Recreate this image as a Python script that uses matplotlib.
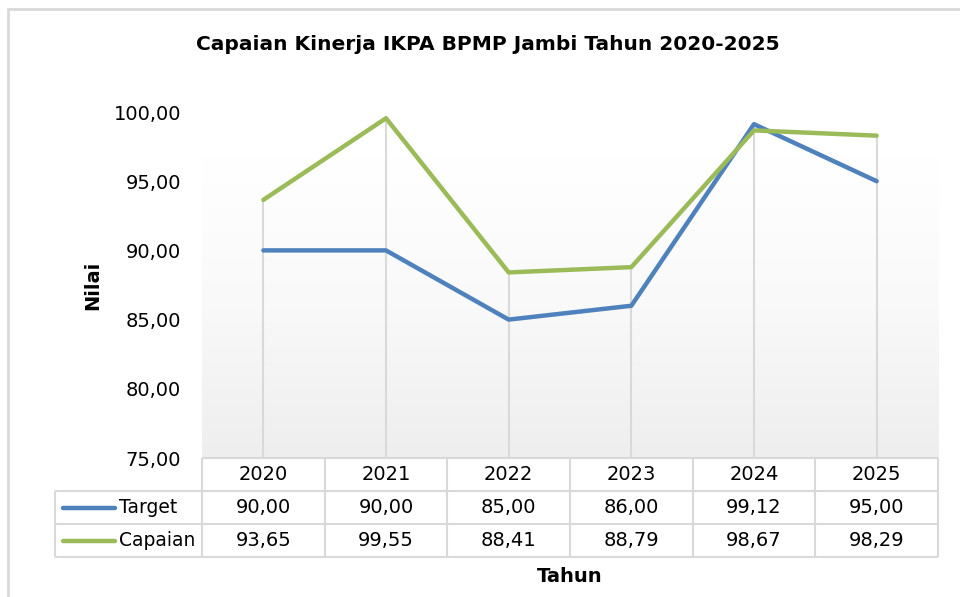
import numpy as np
import matplotlib.pyplot as plt
from matplotlib.patches import Rectangle
from matplotlib.colors import LinearSegmentedColormap

# data
tahun = ['2020', '2021', '2022', '2023', '2024', '2025']
target = [90.00, 90.00, 85.00, 86.00, 99.12, 95.00]
capaian = [93.65, 99.55, 88.41, 88.79, 98.67, 98.29]
y_ticks = [75, 80, 85, 90, 95, 100]

blue = '#4f81bd'
green = '#9bbb59'
grid_c = '#d9d9d9'
fs = 14

plt.rcParams['font.family'] = ['DejaVu Sans']

W, H = 960, 597
fig = plt.figure(figsize=(W / 100, H / 100), dpi=100)

def fx(px):
    return px / W

def fy(py):
    return 1 - py / H

def koma(v):
    return f'{v:.2f}'.replace('.', ',')

# outer chart border
fig.patches.append(Rectangle((fx(8), -0.1), 1.2, fy(9) + 0.1, transform=fig.transFigure,
                             fill=False, edgecolor='#d9d9d9', linewidth=2))

# main axes: x 202..938 px, y bottom 458 px (=75), 100 at 112 px
ppu = (458 - 112) / 25.0
ytop = 75 + (458 - 60) / ppu
ax = fig.add_axes([fx(202), fy(458), fx(938 - 202), (458 - 60) / H])
n = len(tahun)
x = np.arange(n)
ax.set_xlim(-0.5, n - 0.5)
ax.set_ylim(75, ytop)

# gradient plot area (starts at ~158 px)
gtop = 75 + (458 - 158) / ppu
grad = np.linspace(0, 1, 256).reshape(-1, 1)
cm = LinearSegmentedColormap.from_list('g', ['#ffffff', '#f9f9f9', '#eeeeee'])
ax.imshow(grad, extent=(-0.5, n - 0.5, 75, gtop), aspect='auto', origin='upper',
          cmap=cm, zorder=0)

# drop lines
ax.vlines(x, 75, capaian, colors=grid_c, linewidth=1.5, zorder=1)

ax.plot(x, target, color=blue, linewidth=3.2, solid_capstyle='round', zorder=3)
ax.plot(x, capaian, color=green, linewidth=3.2, solid_capstyle='round', zorder=4)

for s in ax.spines.values():
    s.set_visible(False)
ax.set_xticks([])
ax.set_yticks(y_ticks)
ax.set_yticklabels([koma(v) for v in y_ticks], fontsize=fs)
ax.tick_params(axis='y', length=0, pad=15)

fig.text(fx(93), fy(285), 'Nilai', rotation=90, ha='center', va='center',
         fontsize=fs, fontweight='bold')

# data table below
ppx = 736 / n
x0 = -0.5 - (202 - 55) / ppx
tb = fig.add_axes([fx(55), fy(557), fx(938 - 55), (557 - 458) / H])
tb.set_xlim(x0, n - 0.5)
tb.set_ylim(0, 3)
tb.axis('off')
lw = 1.5
tb.hlines(3, -0.5, n - 0.5, colors=grid_c, linewidth=lw, clip_on=False)
for yy in [0, 1, 2]:
    tb.hlines(yy, x0, n - 0.5, colors=grid_c, linewidth=lw, clip_on=False)
for xx in np.arange(-0.5, n, 1.0):
    tb.vlines(xx, 0, 3, colors=grid_c, linewidth=lw, clip_on=False)
tb.vlines(x0, 0, 2, colors=grid_c, linewidth=lw, clip_on=False)

for i, t in enumerate(tahun):
    tb.text(i, 2.5, t, ha='center', va='center', fontsize=fs)
    tb.text(i, 1.5, koma(target[i]), ha='center', va='center', fontsize=fs)
    tb.text(i, 0.5, koma(capaian[i]), ha='center', va='center', fontsize=fs)

def tx(px):
    return x0 + (px - 55) / ppx

for row, name, c in [(1.5, 'Target', blue), (0.5, 'Capaian', green)]:
    tb.plot([tx(63), tx(115)], [row, row], color=c, linewidth=3.2, solid_capstyle='round', clip_on=False)
    tb.text(tx(119), row, name, ha='left', va='center', fontsize=13.5)

fig.text(fx(570), fy(577), 'Tahun', ha='center', va='center', fontsize=fs, fontweight='bold')
fig.text(fx(488), fy(45), 'Capaian Kinerja IKPA BPMP Jambi Tahun 2020-2025',
         ha='center', va='center', fontsize=14.5, fontweight='bold')

fig.savefig('out.png', dpi=100)
